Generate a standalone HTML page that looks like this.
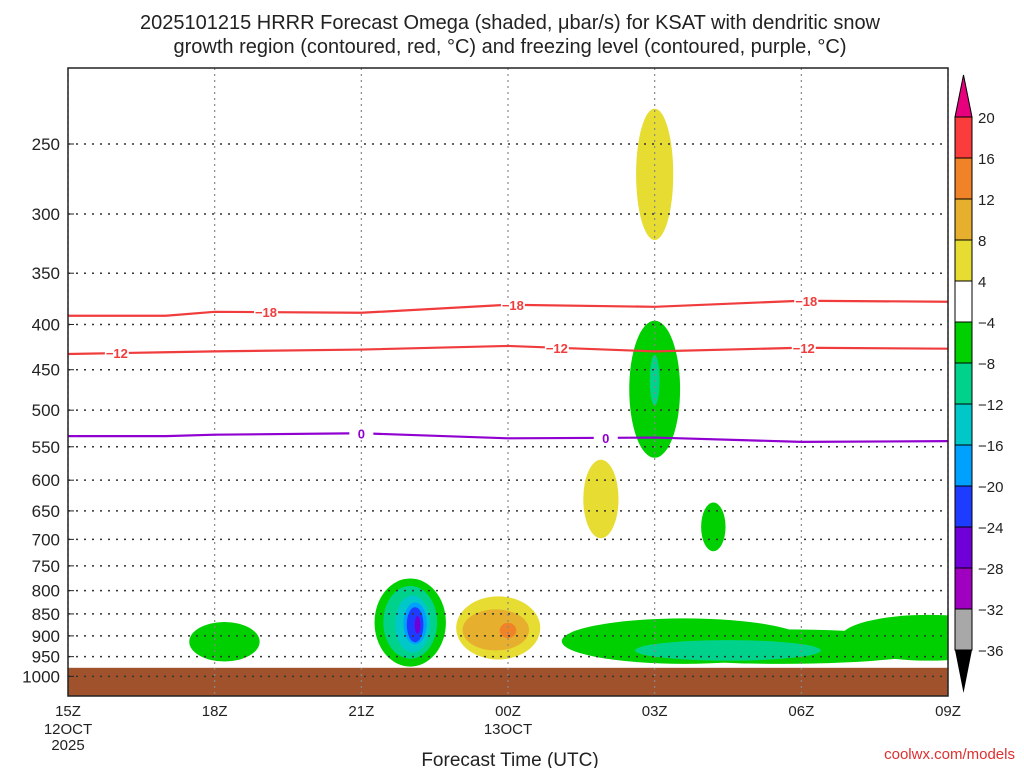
<!DOCTYPE html>
<html><head><meta charset="utf-8"><style>
body{margin:0;background:#fff;}
svg{display:block;font-family:"Liberation Sans","DejaVu Sans",sans-serif;}
</style></head><body>
<svg id="chart" width="1024" height="768" viewBox="0 0 1024 768" xmlns="http://www.w3.org/2000/svg">
<defs><clipPath id="pc"><rect x="68" y="68" width="880" height="628"/></clipPath></defs>
<text x="510" y="29" text-anchor="middle" font-size="20" fill="#222">2025101215 HRRR Forecast Omega (shaded, μbar/s) for KSAT with dendritic snow</text>
<text x="510" y="53" text-anchor="middle" font-size="20" fill="#222">growth region (contoured, red, °C) and freezing level (contoured, purple, °C)</text>
<g id="shade" clip-path="url(#pc)"></g>
<g id="plot"></g>
<text x="510" y="766" text-anchor="middle" font-size="19" fill="#222">Forecast Time (UTC)</text>
<text x="1015" y="759" text-anchor="end" font-size="15" fill="#e03030">coolwx.com/models</text>
</svg>
<script>
const pressureTicks=[250,300,350,400,450,500,550,600,650,700,750,800,850,900,950,1000];
const timeTicks=[0,3,6,9,12,15,18];
const timeLabels=["15Z","18Z","21Z","00Z","03Z","06Z","09Z"];
const contourHours=[0,2,3,6,9,12,15,18];
const iso18=[391,391,387,388,380,382,376,377];
const iso12=[432,430,429,427,423,429,425,426];
const frz=[535,535,533,531,538,537,543,542];
const levels=[-36,-32,-28,-24,-20,-16,-12,-8,-4,4,8,12,16,20];
const colors=["#a8a8a8","#a000c0","#7000d8","#1e3cff","#00a0ff","#00c8c8","#00d28c","#00d000","#ffffff","#e6dc32","#e6af2d","#f08228","#fa3c3c"];
// blobs: [centerHour, halfWidthHours, topPressure, bottomPressure, colorIndex]
const blobs=[
 [12.0,0.38,228,321,9],
 [12.0,0.52,396,566,7],[12.0,0.1,433,494,6],
 [10.9,0.36,569,698,9],
 [13.2,0.25,636,722,7],
 [3.2,0.72,868,962,7],
 [7.0,0.73,775,975,7],[7.0,0.55,790,955,6],[7.05,0.36,810,940,5],[7.1,0.24,825,920,4],[7.1,0.17,835,915,3],[7.15,0.06,855,895,2],
 [8.8,0.86,812,957,9],[8.75,0.68,840,935,10],[9.0,0.17,870,905,11],
 [14.6,3.3,885,968,7],[12.6,2.5,860,968,7],[17.6,1.8,852,960,7],[13.5,1.9,910,960,6]
];
const X0=68,X1=948,Y0=68,Y1=696;
const xs=h=>X0+h*(X1-X0)/18;
const ys=p=>144+384*Math.log(p/250);
const NS="http://www.w3.org/2000/svg";
const plot=document.getElementById('plot');
const shade=document.getElementById('shade');
function mk(t,a,parent){const e=document.createElementNS(NS,t);for(const k in a)e.setAttribute(k,a[k]);(parent||plot).appendChild(e);return e;}
blobs.forEach((b,i)=>{
 const cx=xs(b[0]),rx=b[1]*(X1-X0)/18,yt=ys(b[2]),yb=ys(b[3]);
 const e=mk('ellipse',{cx:cx,cy:(yt+yb)/2,rx:rx,ry:(yb-yt)/2,fill:colors[b[4]]},shade);
 
 
});
const g=mk('rect',{x:X0,y:ys(978),width:X1-X0,height:Y1-ys(978),fill:'#a0522d'},shade);


pressureTicks.forEach(p=>{
 const l=mk('line',{x1:X0,x2:X1,y1:ys(p),y2:ys(p),stroke:'#333','stroke-dasharray':'2,6','stroke-width':1.5});
 
 
 const t=mk('text',{x:60,y:ys(p)+6,'text-anchor':'end','font-size':17,fill:'#222'});t.textContent=p;
 
 
 mk('line',{x1:X0,x2:X0+6,y1:ys(p),y2:ys(p),stroke:'#222'});
});
timeTicks.forEach((h,i)=>{
 const l=mk('line',{x1:xs(h),x2:xs(h),y1:Y0,y2:Y1,stroke:'#888','stroke-dasharray':'2,4','stroke-width':1.2});
 
 
 const t=mk('text',{x:xs(h),y:716,'text-anchor':'middle','font-size':15,fill:'#222'});t.textContent=timeLabels[i];
 
 
});
[["12OCT",0,734],["2025",0,750],["13OCT",9,734]].forEach(a=>{const t=mk('text',{x:xs(a[1]),y:a[2],'text-anchor':'middle','font-size':15,fill:'#222'});t.textContent=a[0];
 
 });
function line(vals,color,lab,labHours){
 const d=contourHours.map((h,i)=>(i?'L':'M')+xs(h)+','+ys(vals[i])).join('');
 const p=mk('path',{d:d,stroke:color,'stroke-width':2.2,fill:'none'});
 
 
 labHours.forEach(h=>{
  let k=0;while(k<contourHours.length-2&&contourHours[k+1]<h)k++;
  const f=(h-contourHours[k])/(contourHours[k+1]-contourHours[k]);
  const v=vals[k]+f*(vals[k+1]-vals[k]);
  mk('rect',{x:xs(h)-12,y:ys(v)-6,width:24,height:12,fill:'#fff'});
  const t=mk('text',{x:xs(h),y:ys(v)+5,'text-anchor':'middle','font-size':13,'font-weight':'bold',fill:color});t.textContent=lab;
  
  
 });
}
line(iso18,'#f03c3c','−18',[4.05,9.1,15.1]);
line(iso12,'#f03c3c','−12',[1.0,10.0,15.05]);
line(frz,'#9000d0','0',[6.0,11.0]);
const fr=mk('rect',{x:X0,y:Y0,width:X1-X0,height:Y1-Y0,fill:'none',stroke:'#222','stroke-width':1.5});


const CB0=117,CBH=41,cx0=955,cw=17;
colors.slice().reverse().forEach((c,i)=>{
 const r=mk('rect',{x:cx0,y:CB0+i*CBH,width:cw,height:CBH,fill:c,stroke:'#000','stroke-width':1});
 
 
});
mk('polygon',{points:`${cx0},${CB0} ${cx0+cw},${CB0} ${cx0+cw/2},75`,fill:'#e6007e',stroke:'#000'});
mk('polygon',{points:`${cx0},${CB0+13*CBH} ${cx0+cw},${CB0+13*CBH} ${cx0+cw/2},693`,fill:'#000'});
levels.slice().reverse().forEach((v,i)=>{
 const t=mk('text',{x:978,y:CB0+i*CBH+6,'font-size':15,fill:'#222'});t.textContent=v<0?'−'+(-v):v;
 
 
});
</script>
</body></html>
